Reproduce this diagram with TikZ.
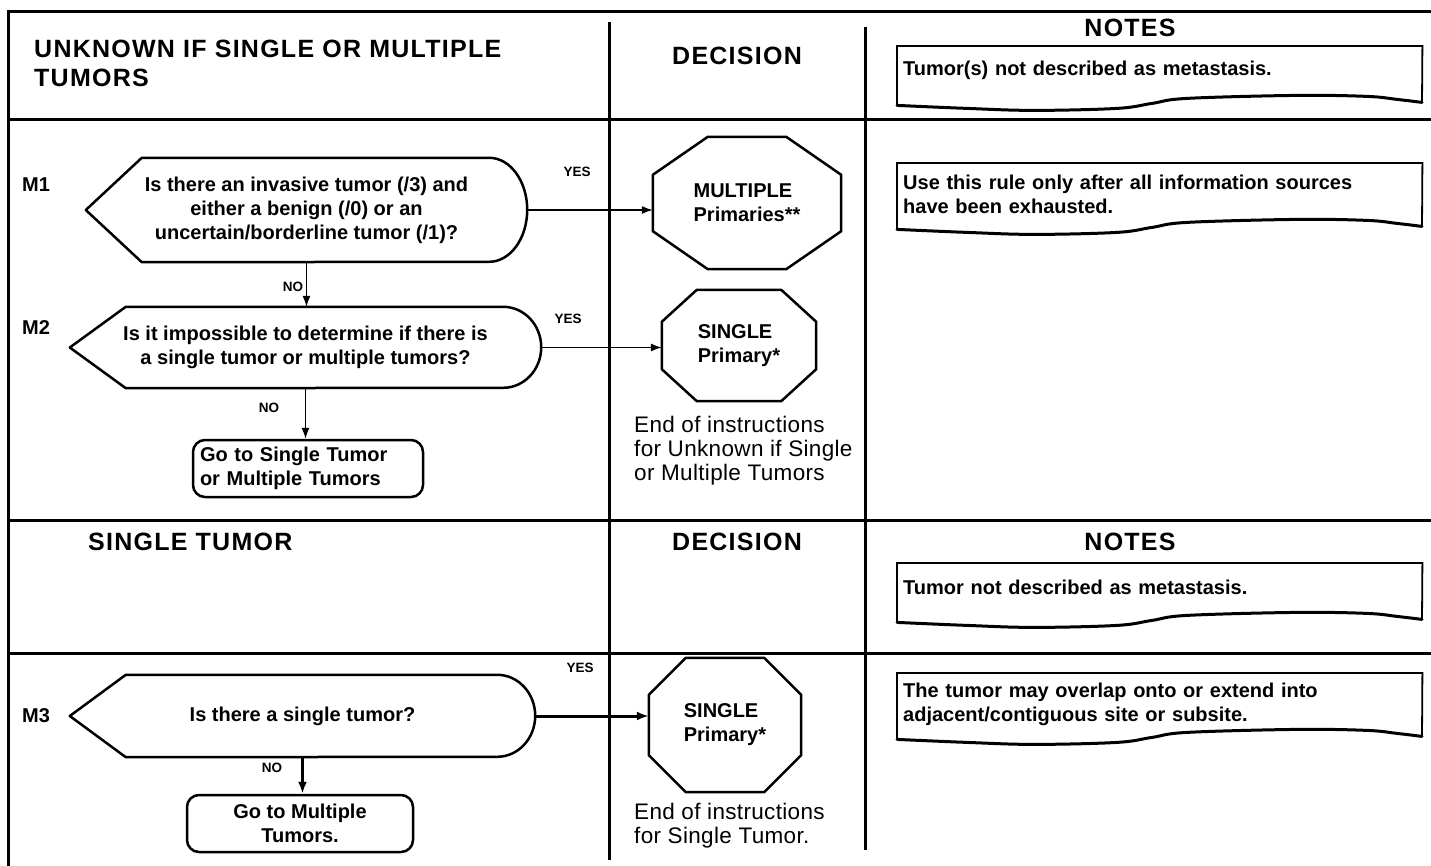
\documentclass[tikz,border=0pt]{standalone}
\usepackage{fontspec}
\setmainfont{Liberation Sans}
\newfontfamily\headfont{Liberation Sans}[LetterSpace=5]
\newfontfamily\endfont{Liberation Sans}[LetterSpace=1.5]
\usetikzlibrary{arrows.meta, positioning, calc}

\begin{document}
\begin{tikzpicture}[x=1pt, y=-1pt,
  body/.style={font=\fontsize{20}{24}\selectfont\bfseries, inner sep=0pt},
  head/.style={font=\headfont\fontsize{25}{29}\selectfont\bfseries, inner sep=0pt},
  yn/.style={font=\fontsize{13.5}{15}\selectfont\bfseries, inner sep=0pt},
  endtxt/.style={font=\endfont\fontsize{22.5}{24}\selectfont, inner sep=0pt, align=left, anchor=west},
  dec/.style={body, align=center},
  stop/.style={body, align=left},
  goto/.style={body, draw, line width=2.5pt, rounded corners=12pt, minimum height=57pt},
  note/.style={body, anchor=north west, text width=513pt, inner xsep=6pt, align=left},
  notebox/.style={line width=1.8pt},
  tear/.style={line width=3pt, line cap=round},
  outline/.style={line width=2.5pt, line join=round},
  rule/.style={line width=3pt},
  fl/.style={-{Latex[length=11pt, width=8pt]}, line width=1.2pt},
  flb/.style={-{Latex[length=12pt, width=9pt]}, line width=3pt}]

\useasboundingbox (0,0) rectangle (1431,866);

% frame and columns
\draw[rule] (8,866) -- (8,12) -- (1431,12);
\foreach \y in {120, 520, 653} \draw[rule] (8,\y) -- (1431,\y);
\draw[rule] (609,22) -- (609,860);
\draw[rule] (865,27) -- (865,850);

% headers
\node[head, anchor=west, align=left] (h1) at (34,63) {UNKNOWN IF SINGLE OR MULTIPLE\\TUMORS};
\node[head] (dec1) at (737,56) {DECISION};
\node[head] (not1) at (1130,28) {NOTES};
\node[head, anchor=west] (h2) at (88,542) {SINGLE TUMOR};
\node[head] (dec2) at (737,542) {DECISION};
\node[head] (not2) at (1130,542) {NOTES};

% rule tags
\node[body, anchor=west] (m1) at (22,185) {M1};
\node[body, anchor=west] (m2) at (22,328) {M2};
\node[body, anchor=west] (m3) at (22,716) {M3};

% decisions
\node[dec, minimum width=441pt, minimum height=104pt] (d1) at (306.5,210) {Is there an invasive tumor (/3) and\\either a benign (/0) or an\\uncertain/borderline tumor (/1)?};
\node[dec, minimum width=471pt, minimum height=81pt] (d2) at (305.5,347.5) {Is it impossible to determine if there is\\a single tumor or multiple tumors?};
\node[dec, minimum width=465pt, minimum height=82pt] (d3) at (302.5,716) {Is there a single tumor?};
\foreach \d/\r in {d1/52pt, d2/40.5pt, d3/41pt}
  \draw[outline] (\d.west) -- ([xshift=56pt]\d.north west) -- ([xshift=-38pt]\d.north east)
    arc[start angle=90, end angle=-90, x radius=38pt, y radius=\r] -- ([xshift=56pt]\d.south west) -- cycle;

% stop signs
\node[stop, minimum width=188pt, minimum height=132pt] (o1) at (747,203) {MULTIPLE\\Primaries**};
\node[stop, minimum width=154pt, minimum height=111pt] (o2) at (739,345.5) {SINGLE\\Primary*};
\node[stop, minimum width=152pt, minimum height=134pt] (o3) at (725,725) {SINGLE\\Primary*};
\foreach \o/\cx/\cy in {o1/55pt/38pt, o2/35pt/32pt, o3/37pt/37pt}
  \draw[outline] ([xshift=\cx]\o.north west) -- ([xshift=-\cx]\o.north east) -- ([yshift=-\cy]\o.north east)
    -- ([yshift=\cy]\o.south east) -- ([xshift=-\cx]\o.south east) -- ([xshift=\cx]\o.south west)
    -- ([yshift=\cy]\o.south west) -- ([yshift=-\cy]\o.north west) -- cycle;

% go to boxes
\node[goto, text width=216pt, inner xsep=7pt, align=left] (g1) at (308,468.5) {Go to Single Tumor\\or Multiple Tumors};
\node[goto, minimum width=226pt, align=center] (g2) at (300,823.5) {Go to Multiple\\Tumors.};

\node[endtxt] (e1) at (634,451) {End of instructions\\for Unknown if Single\\or Multiple Tumors};
\node[endtxt] (e2) at (634,826) {End of instructions\\for Single Tumor.};

% notes
\node[note, minimum height=48pt] (nt1) at (897,46) {Tumor(s) not described as metastasis.};
\node[note, minimum height=62pt] (nt2) at (897,163) {Use this rule only after all information sources\\have been exhausted.};
\node[note, minimum height=48pt] (nt3) at (897,563) {Tumor not described as metastasis.};
\node[note, minimum height=62pt] (nt4) at (897,673) {The tumor may overlap onto or extend into\\adjacent/contiguous site or subsite.};
\foreach \n/\b in {nt1/11, nt2/4, nt3/11, nt4/4} {
  \begin{scope}[shift={($(\n.south west)+(0,\b)$)}]
    \draw[notebox] (0,0) -- (\n.north west) -- (\n.north east) -- (525,-3);
    \draw[tear] plot[smooth, tension=.6] coordinates {(0,0) (70,3) (137,5) (220,3) (255,-2) (290,-7) (400,-10) (470,-9) (500,-6) (525,-3)};
  \end{scope}
}

% connectors
\draw[fl] (d1.east) -- (d1.east -| o1.west);
\draw[fl] (d2.east) -- (d2.east -| o2.west);
\draw[flb] (d3.east) -- (d3.east -| o3.west);
\draw[fl] (d1.south) -- (d1.south |- d2.north);
\draw[fl] (d2.south) -- (d2.south |- g1.north);
\draw[flb] (d3.south) -- (d3.south |- g2.north);

\node[yn] (yes1) at (577,172) {YES};
\node[yn] (yes2) at (568,319) {YES};
\node[yn] (yes3) at (580,668) {YES};
\node[yn] (no1) at (293,287) {NO};
\node[yn] (no2) at (269,408) {NO};
\node[yn] (no3) at (272,768) {NO};
\end{tikzpicture}
\end{document}
